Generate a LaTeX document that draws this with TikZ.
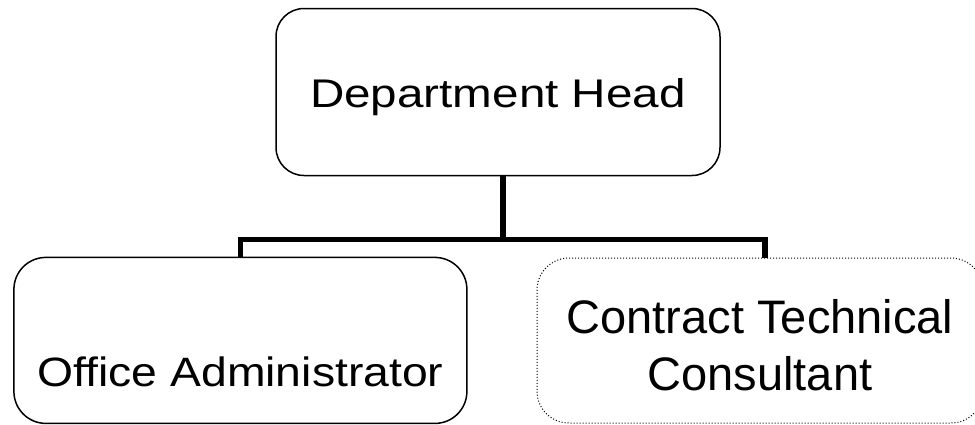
\documentclass[tikz,border=0pt]{standalone}
\usepackage{fontspec}
\usepackage{graphicx}
\setmainfont{Liberation Sans}
\begin{document}
\begin{tikzpicture}[x=1pt,y=-1pt,
  orgbox/.style={draw=black, line width=1.5pt, rounded corners=28pt, inner sep=0pt, outer sep=0pt, align=center},
  dotbox/.style={draw=black, line width=1pt, dash pattern=on 1pt off 2pt, rounded corners=32pt, inner sep=0pt, outer sep=0pt, align=center},
  link/.style={line width=5.5pt, line join=miter}]
\useasboundingbox (0,0) rectangle (975,424);
\node[orgbox, minimum width=444pt, minimum height=167pt, text height=30pt, text depth=0pt] (head) at (498,92)
  {\fontsize{40}{46}\selectfont\scalebox{1.19}[1]{Department Head}};
\node[orgbox, rounded corners=32pt, minimum width=453pt, minimum height=166pt, text height=92pt, text depth=0pt] (admin) at (240.4,340.4)
  {\fontsize{41}{47}\selectfont\scalebox{1.13}[1]{Office Administrator}};
\node[dotbox, minimum width=446pt, minimum height=165pt, text height=99pt, text depth=0pt, font=\fontsize{47}{57}\selectfont] (consult) at (760,340.5)
  {Contract Technical\\Consultant};
\coordinate (busM) at (503,239.5);
\coordinate (busL) at (240.4,239.5);
\coordinate (busR) at (765,239.5);
\draw[link] (head.south -| busM) -- (busM);
\draw[link] (admin.north) -- (busL) -- (busR) -- (consult.north -| busR);
\end{tikzpicture}
\end{document}
